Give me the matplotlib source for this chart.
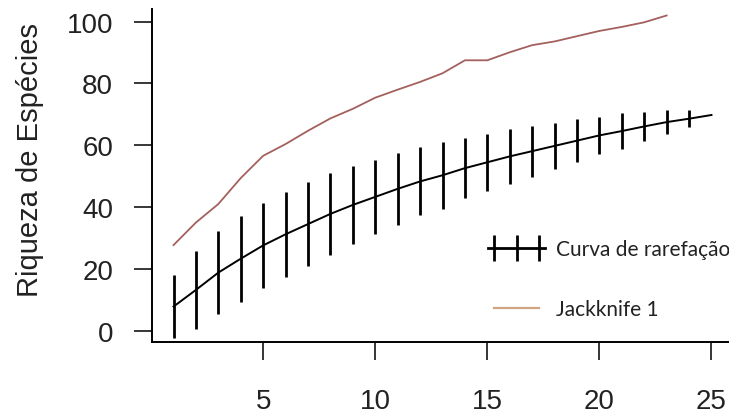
import numpy as np
import matplotlib
matplotlib.use("Agg")
import matplotlib.pyplot as plt
from matplotlib.lines import Line2D
from matplotlib.legend_handler import HandlerLine2D, HandlerTuple

# rarefaction curve (mean +- sd), samples 1..25
samples = np.arange(1, 26)
riqueza = [7.8, 13.2, 18.8, 23.3, 27.6, 31.2, 34.5, 37.8, 40.7, 43.3,
           45.9, 48.3, 50.3, 52.6, 54.5, 56.4, 58.1, 59.8, 61.5, 63.2,
           64.6, 66.1, 67.5, 68.6, 69.8]
desvio = [10.2, 12.7, 13.5, 13.9, 13.8, 13.8, 13.5, 13.3, 12.6, 12.0,
          11.7, 11.0, 10.8, 9.8, 9.3, 8.9, 8.3, 7.5, 6.9, 6.0,
          5.7, 4.8, 3.9, 2.7, 0.0]

# jackknife 1 estimate, samples 1..23
jk_samples = np.arange(1, 24)
jackknife = [27.7, 35.0, 41.0, 49.4, 56.6, 60.4, 64.7, 68.7, 71.8, 75.4,
             78.0, 80.5, 83.3, 87.5, 87.5, 90.1, 92.4, 93.6, 95.3, 97.0,
             98.3, 99.8, 102.0]

xticks = [5, 10, 15, 20, 25]
yticks = [0, 20, 40, 60, 80, 100]

fig = plt.figure(figsize=(7.29, 4.14), dpi=100)
ax = fig.add_axes([152/729, 1-343/414, (733-152)/729, (343-10)/414])

riq = np.array(riqueza)
sd = np.array(desvio)
ax.plot(samples, riq, color="black", lw=1.4)
ax.vlines(samples, riq - sd, riq + sd, color="black", lw=2)
ax.plot(jk_samples, jackknife, color="#a3605d", lw=1.3)

ax.set_xlim(0.04, 25.96)
ax.set_ylim(-3.66, 104.1)
ax.set_xticks(xticks)
ax.set_yticks(yticks)

for s in ["top", "right"]:
    ax.spines[s].set_visible(False)
for s in ["left", "bottom"]:
    ax.spines[s].set_linewidth(1.4)

ax.tick_params(axis="both", length=13, width=1.1, labelsize=20)
ax.tick_params(axis="x", pad=20)
ax.tick_params(axis="y", pad=15)
for lab in ax.get_xticklabels() + ax.get_yticklabels():
    lab.set_fontfamily("Liberation Sans")
    lab.set_color("#222222")

# y label
fig.text(30/729, 1-160/414, "Riqueza de Espécies", fontsize=21, family="Liberation Sans",
         color="#222222", rotation=90, ha="center", va="center")

# legend: line with three vertical ticks for the rarefaction curve
h_line = Line2D([], [], color="black", lw=2)
h_mark = Line2D([], [], color="black", lw=0, marker="|", markersize=19, markeredgewidth=2)
h_jk = Line2D([], [], color="#cfa47e", lw=1.6)
leg = ax.legend([(h_line, h_mark), h_jk], ["Curva de rarefação", "Jackknife 1"],
                numpoints=3,
                handler_map={h_line: HandlerLine2D(marker_pad=0),
                             h_mark: HandlerLine2D(marker_pad=0.3),
                             tuple: HandlerTuple(ndivide=1, pad=0)},
                loc="center left", bbox_to_anchor=((488-152)/581, (343-280)/333),
                frameon=False, handlelength=2.75, handletextpad=0.5, labelspacing=1.9,
                borderaxespad=0, borderpad=0,
                prop={"family": "Lato", "size": 15})
for t in leg.get_texts():
    t.set_color("#222222")

fig.savefig("out.png", dpi=100)
